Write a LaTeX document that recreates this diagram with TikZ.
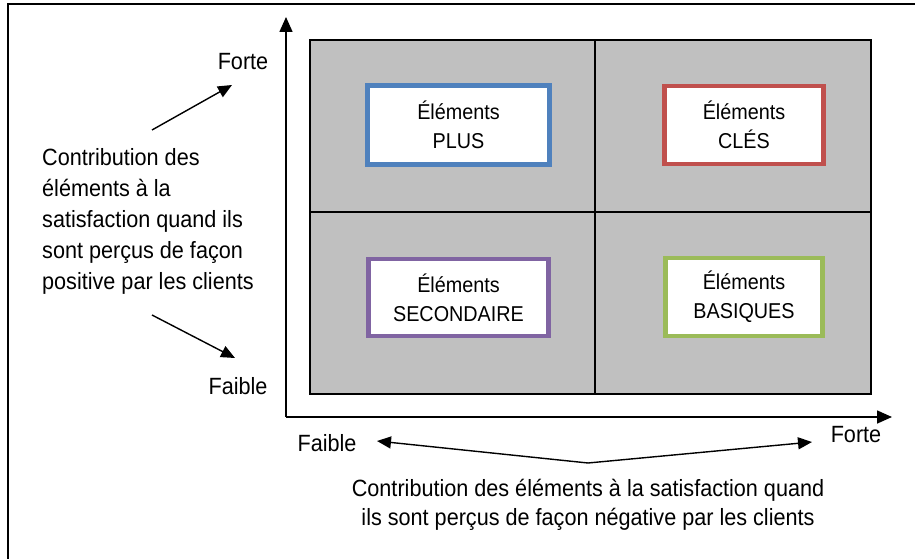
\documentclass[tikz,border=0pt]{standalone}
\usepackage{fontspec}
\setmainfont{Liberation Sans}[FakeStretch=0.92]
\usetikzlibrary{arrows.meta}

\definecolor{plusblue}{HTML}{4F81BD}
\definecolor{clered}{HTML}{C0504D}
\definecolor{secviolet}{HTML}{8064A2}
\definecolor{basgreen}{HTML}{9BBB59}
\definecolor{cellgray}{HTML}{C0C0C0}

\tikzset{
  elem/.style={draw, fill=white, line width=4.5pt, align=center, inner sep=0pt,
    font=\fontsize{21.5}{29}\selectfont},
  lbl/.style={font=\fontsize{23.5}{31}\selectfont, inner sep=0pt},
  axe/.style={line width=1.6pt, -{Triangle[length=15pt,width=13pt]}},
  fl/.style={line width=1.4pt, -{Triangle[length=14pt,width=12pt]}}
}

\begin{document}
\begin{tikzpicture}[x=1pt,y=-1pt]

\useasboundingbox (0,0) rectangle (915,559);

% cadre
\draw[line width=2pt] (8,562) -- (8,4) -- (920,4);

% matrice
\draw[fill=cellgray, line width=2pt] (310,40) rectangle (871,394);
\draw[line width=2pt] (595,40) -- (595,394);
\draw[line width=2pt] (310,212) -- (871,212);

% axes
\coordinate (origine) at (286,417);
\coordinate (ymax) at (286,17);
\coordinate (xmax) at (892,417);
\draw[axe] (origine) -- (ymax);
\draw[axe] (origine) -- (xmax);

% quadrants
\node[elem, draw=plusblue, minimum width=182, minimum height=79] (plus) at (458.5,125) {Éléments\\PLUS};
\node[elem, draw=clered, minimum width=159, minimum height=78] (cles) at (744,125) {Éléments\\CLÉS};
\node[elem, draw=secviolet, minimum width=180, minimum height=77] (second) at (458.5,297.5) {Éléments\\SECONDAIRE};
\node[elem, draw=basgreen, minimum width=157, minimum height=78] (basiques) at (744,297) {Éléments\\BASIQUES};

% axe vertical
\node[lbl] (forteY) at (243,62) {Forte};
\node[lbl] (faibleY) at (238,386) {Faible};
\node[lbl, align=left, anchor=north west] (positif) at (42,148)
  {Contribution des\\éléments à la\\satisfaction quand ils\\sont perçus de façon\\positive par les clients};
\coordinate (hautD) at (152,130);
\coordinate (hautF) at (232,85);
\coordinate (basD) at (152,315);
\coordinate (basF) at (235,358);
\draw[fl] (hautD) -- (hautF);
\draw[fl] (basD) -- (basF);

% axe horizontal
\node[lbl] (faibleX) at (327,443) {Faible};
\node[lbl] (forteX) at (856,435) {Forte};
\node[lbl, align=center, anchor=north, font=\fontsize{23.5}{29}\selectfont] (negatif) at (588,479)
  {Contribution des éléments à la satisfaction quand\\ils sont perçus de façon négative par les clients};
\coordinate (pointe) at (588,463);
\coordinate (gaucheF) at (377,441);
\coordinate (droiteF) at (812,442);
\draw[fl] (pointe) -- (gaucheF);
\draw[fl] (pointe) -- (droiteF);

\end{tikzpicture}
\end{document}
